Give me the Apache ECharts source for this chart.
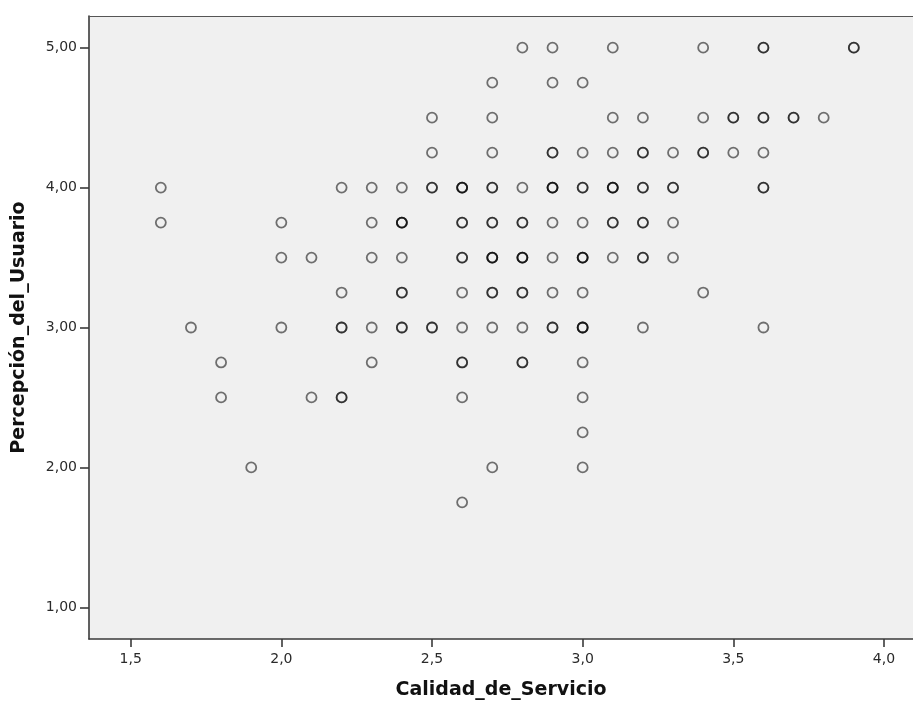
<!DOCTYPE html>
<html>
<head>
<meta charset="utf-8">
<script src="https://cdn.jsdelivr.net/npm/echarts@6/dist/echarts.min.js"></script>
<style>
  html, body { margin: 0; padding: 0; background: #fff; }
  #chart { width: 913px; height: 702px; }
</style>
</head>
<body>
<div id="chart"></div>
<script>
// Calidad_de_Servicio (x), Percepción_del_Usuario (y), casos superpuestos en cada punto
var calidad = [
  2.8, 2.9, 3.1, 3.4, 3.6, 3.9,
  2.7, 2.9, 3.0,
  2.5, 2.7, 3.1, 3.2, 3.4, 3.5, 3.6, 3.7, 3.8,
  2.5, 2.7, 2.9, 3.0, 3.1, 3.2, 3.3, 3.4, 3.5, 3.6,
  1.6, 2.2, 2.3, 2.4, 2.5, 2.6, 2.7, 2.8, 2.9, 3.0, 3.1, 3.2, 3.3, 3.6,
  1.6, 2.0, 2.3, 2.4, 2.6, 2.7, 2.8, 2.9, 3.0, 3.1, 3.2, 3.3,
  2.0, 2.1, 2.3, 2.4, 2.6, 2.7, 2.8, 2.9, 3.0, 3.1, 3.2, 3.3,
  2.2, 2.4, 2.6, 2.7, 2.8, 2.9, 3.0, 3.4,
  1.7, 2.0, 2.2, 2.3, 2.4, 2.5, 2.6, 2.7, 2.8, 2.9, 3.0, 3.2, 3.6,
  1.8, 2.3, 2.6, 2.8, 3.0,
  1.8, 2.1, 2.2, 2.6, 3.0,
  3.0,
  1.9, 2.7, 3.0,
  2.6
]
var percepcion = [
  5, 5, 5, 5, 5, 5,
  4.75, 4.75, 4.75,
  4.5, 4.5, 4.5, 4.5, 4.5, 4.5, 4.5, 4.5, 4.5,
  4.25, 4.25, 4.25, 4.25, 4.25, 4.25, 4.25, 4.25, 4.25, 4.25,
  4, 4, 4, 4, 4, 4, 4, 4, 4, 4, 4, 4, 4, 4,
  3.75, 3.75, 3.75, 3.75, 3.75, 3.75, 3.75, 3.75, 3.75, 3.75, 3.75, 3.75,
  3.5, 3.5, 3.5, 3.5, 3.5, 3.5, 3.5, 3.5, 3.5, 3.5, 3.5, 3.5,
  3.25, 3.25, 3.25, 3.25, 3.25, 3.25, 3.25, 3.25,
  3, 3, 3, 3, 3, 3, 3, 3, 3, 3, 3, 3, 3,
  2.75, 2.75, 2.75, 2.75, 2.75,
  2.5, 2.5, 2.5, 2.5, 2.5,
  2.25,
  2, 2, 2,
  1.75
]
var casos = [
  1, 1, 1, 1, 2, 2,
  1, 1, 1,
  1, 1, 1, 1, 1, 2, 2, 2, 1,
  1, 1, 2, 1, 1, 2, 1, 2, 1, 1,
  1, 1, 1, 1, 2, 3, 2, 1, 3, 2, 3, 2, 2, 2,
  1, 1, 1, 3, 2, 2, 2, 1, 1, 2, 2, 1,
  1, 1, 1, 1, 2, 3, 3, 1, 3, 1, 2, 1,
  1, 2, 1, 2, 2, 1, 1, 1,
  1, 1, 2, 1, 2, 2, 1, 1, 1, 2, 3, 1, 1,
  1, 1, 2, 2, 1,
  1, 1, 2, 1, 1,
  1,
  1, 1, 1,
  1
]
var xTicks = [1.5, 2.0, 2.5, 3.0, 3.5, 4.0]
var yTicks = [1, 2, 3, 4, 5]

var puntos = []
calidad.forEach(function (x, i) {
  for (var k = 0; k < casos[i]; k++) {
    puntos.push([x, percepcion[i]])
  }
})

var chart = echarts.init(document.getElementById('chart'))
var axisColor = '#3a3a3a'
var labelFont = { color: '#2a2a2a', fontSize: 14, fontFamily: 'DejaVu Sans' }

chart.setOption({
  animation: false,
  backgroundColor: '#fff',
  grid: {
    left: 89,
    right: 0,
    top: 16,
    bottom: 63,
    show: true,
    backgroundColor: '#f0f0f0',
    borderWidth: 0,
    containLabel: false,
    outerBoundsMode: 'none'
  },
  xAxis: [{
    type: 'value',
    min: 1.3616,
    max: 4.0964,
    name: 'Calidad_de_Servicio',
    nameLocation: 'middle',
    nameGap: 42,
    nameTextStyle: { color: '#111', fontSize: 19, fontWeight: 'bold', fontFamily: 'DejaVu Sans' },
    axisLine: { show: true, lineStyle: { color: axisColor, width: 1.6 } },
    axisTick: { show: true, length: 8, customValues: xTicks, lineStyle: { color: axisColor, width: 1.6 } },
    axisLabel: Object.assign({
      customValues: xTicks,
      margin: 13,
      formatter: function (v) { return v.toFixed(1).replace('.', ',') }
    }, labelFont),
    splitLine: { show: false }
  }, {
    type: 'value',
    position: 'top',
    min: 1.3616,
    max: 4.0964,
    axisLine: { show: true, lineStyle: { color: '#555', width: 1.2 } },
    axisTick: { show: false },
    axisLabel: { show: false },
    splitLine: { show: false }
  }],
  yAxis: {
    type: 'value',
    min: 0.7734,
    max: 5.2266,
    name: 'Percepción_del_Usuario',
    nameLocation: 'middle',
    nameGap: 60,
    nameTextStyle: { color: '#111', fontSize: 19, fontWeight: 'bold', fontFamily: 'DejaVu Sans' },
    axisLine: { show: true, lineStyle: { color: axisColor, width: 1.6 } },
    axisTick: { show: true, length: 9, customValues: yTicks, lineStyle: { color: axisColor, width: 1.6 } },
    axisLabel: Object.assign({
      customValues: yTicks,
      margin: 12,
      formatter: function (v) { return v.toFixed(2).replace('.', ',') }
    }, labelFont),
    splitLine: { show: false }
  },
  series: [{
    type: 'scatter',
    xAxisIndex: 0,
    symbol: 'circle',
    symbolSize: 10,
    data: puntos,
    itemStyle: {
      color: 'rgba(0,0,0,0)',
      borderColor: 'rgba(0,0,0,0.68)',
      borderWidth: 1.8
    },
    emphasis: { disabled: true }
  }]
})
</script>
</body>
</html>
